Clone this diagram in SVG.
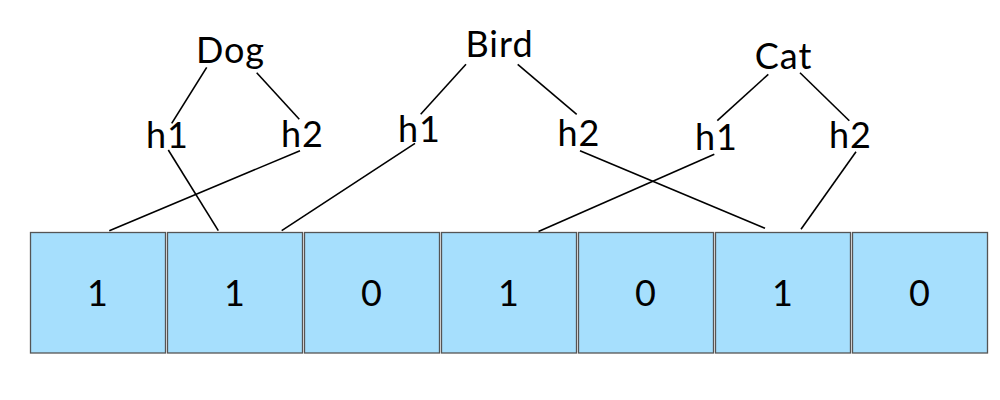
<svg xmlns="http://www.w3.org/2000/svg" width="1000" height="400" viewBox="0 0 1000 400">
<style>
text{font-family:Lato,"Liberation Sans",sans-serif;font-size:36px;fill:#000;text-anchor:middle;letter-spacing:1px}
.cell rect{fill:#a6dffd;stroke:#555;stroke-width:1.3}
#connectors line{stroke:#000;stroke-width:1.6;fill:none}
</style>
<rect width="1000" height="400" fill="#fff"/>
<g id="connectors">
<line x1="206.7" y1="67.3" x2="171.7" y2="123.3"/>
<line x1="256.7" y1="72.7" x2="299.3" y2="119.3"/>
<line x1="168.3" y1="150" x2="218.3" y2="230.7"/>
<line x1="300" y1="150.7" x2="109.3" y2="230.7"/>
<line x1="466" y1="64.3" x2="420.7" y2="114.3"/>
<line x1="517.7" y1="64.3" x2="576.7" y2="114.3"/>
<line x1="415" y1="143.3" x2="281.7" y2="230.7"/>
<line x1="580" y1="150.7" x2="765" y2="228.3"/>
<line x1="768.3" y1="74.3" x2="717.3" y2="120.7"/>
<line x1="800" y1="72.7" x2="849.3" y2="120.7"/>
<line x1="714.3" y1="154.3" x2="538.5" y2="231.5"/>
<line x1="856" y1="151.7" x2="801" y2="229.3"/>
</g>
<g id="dog"><text x="230.5" y="63">Dog</text></g>
<g id="dog-h1"><text x="167.5" y="148">h1</text></g>
<g id="dog-h2"><text x="302.5" y="147">h2</text></g>
<g id="bird"><text x="499.5" y="57">Bird</text></g>
<g id="bird-h1"><text x="419.5" y="142">h1</text></g>
<g id="bird-h2"><text x="579" y="146">h2</text></g>
<g id="cat"><text x="783.5" y="69">Cat</text></g>
<g id="cat-h1"><text x="716.5" y="150">h1</text></g>
<g id="cat-h2"><text x="850.5" y="148">h2</text></g>
<g id="cell0" class="cell"><rect x="30.5" y="232.5" width="135" height="120.5"/><text x="98" y="306">1</text></g>
<g id="cell1" class="cell"><rect x="167.5" y="232.5" width="135" height="120.5"/><text x="235" y="306">1</text></g>
<g id="cell2" class="cell"><rect x="304.5" y="232.5" width="135" height="120.5"/><text x="372" y="306">0</text></g>
<g id="cell3" class="cell"><rect x="441.5" y="232.5" width="135" height="120.5"/><text x="509" y="306">1</text></g>
<g id="cell4" class="cell"><rect x="578.5" y="232.5" width="135" height="120.5"/><text x="646" y="306">0</text></g>
<g id="cell5" class="cell"><rect x="715.5" y="232.5" width="135" height="120.5"/><text x="783" y="306">1</text></g>
<g id="cell6" class="cell"><rect x="852.5" y="232.5" width="135" height="120.5"/><text x="920" y="306">0</text></g>
</svg>
